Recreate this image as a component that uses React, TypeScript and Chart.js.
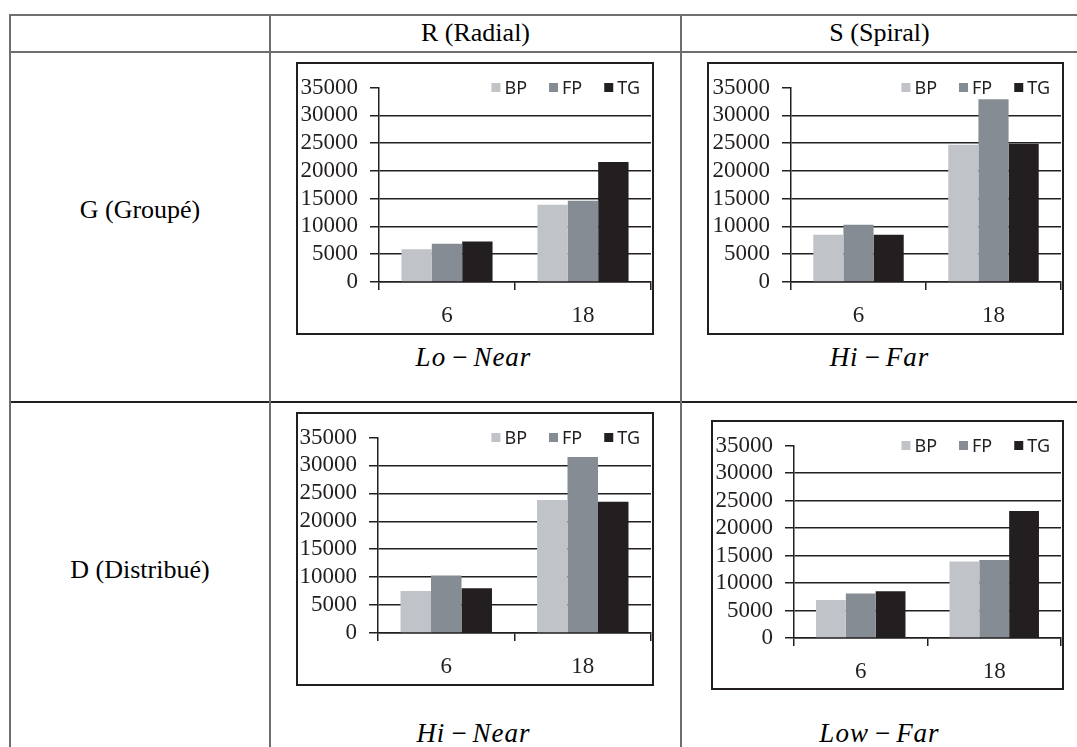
import React, { useEffect, useRef } from "react";
import { Chart, registerables } from "chart.js";
Chart.register(...registerables);

// ---- data ----
const categories = ["6", "18"];
const seriesNames = ["BP", "FP", "TG"];
const seriesColors = ["#c0c3c8", "#868c93", "#231f20"];
const yMin = 0;
const yMax = 35000;
const yStep = 5000;

const columnHeaders = ["R (Radial)", "S (Spiral)"];
const rowHeaders = ["G (Groupé)", "D (Distribué)"];
const panelCaptions = ["Lo − Near", "Hi − Far", "Hi − Near", "Low − Far"];

// R / G : Lo - Near
const radialGroupBP = [5900, 13900];
const radialGroupFP = [6900, 14600];
const radialGroupTG = [7300, 21600];
// S / G : Hi - Far
const spiralGroupBP = [8500, 24700];
const spiralGroupFP = [10300, 32900];
const spiralGroupTG = [8500, 24900];
// R / D : Hi - Near
const radialDistBP = [7500, 23800];
const radialDistFP = [10300, 31500];
const radialDistTG = [8000, 23500];
// S / D : Low - Far
const spiralDistBP = [6900, 13900];
const spiralDistFP = [8100, 14200];
const spiralDistTG = [8500, 23100];

const INK = "#231f20";
const SERIF = "'Liberation Serif', 'Times New Roman', serif";

const cornerLegend = {
  id: "cornerLegend",
  afterDraw(chart: any) {
    const { ctx, chartArea } = chart;
    ctx.save();
    ctx.font = "18px 'Noto Sans', sans-serif";
    ctx.textBaseline = "middle";
    ctx.textAlign = "left";
    const box = 9;
    const gap = 4;
    const itemGap = 22;
    let x = chartArea.right - 11;
    const y = chartArea.top;
    const ds = chart.data.datasets;
    for (let i = ds.length - 1; i >= 0; i--) {
      const label = ds[i].label;
      const w = ctx.measureText(label).width;
      x -= w;
      ctx.fillStyle = INK;
      ctx.fillText(label, x, y + 1);
      x -= gap + box;
      ctx.fillStyle = ds[i].backgroundColor;
      ctx.fillRect(x, y - box / 2, box, box);
      x -= itemGap;
    }
    ctx.restore();
  },
};

type Box = { x: number; y: number; w: number; h: number };
type Area = { left: number; top: number; right: number; bottom: number };

function BarPanel(props: { box: Box; area: Area; series: number[][] }) {
  const { box, area, series } = props;
  const ref = useRef<HTMLCanvasElement>(null);
  const bw = 2;
  const cw = box.w - 2 * bw;
  const ch = box.h - 2 * bw;
  const ox = box.x + bw;
  const oy = box.y + bw;
  useEffect(() => {
    const yWidth = area.left - ox;
    const topPad = area.top - oy;
    const rightPad = ox + cw - area.right;
    const xHeight = oy + ch - area.bottom;
    const chart = new Chart(ref.current as HTMLCanvasElement, {
      type: "bar",
      data: {
        labels: categories,
        datasets: seriesNames.map((name, i) => ({
          label: name,
          data: series[i],
          backgroundColor: seriesColors[i],
          borderWidth: 0,
          categoryPercentage: 0.67,
          barPercentage: 1.0,
        })),
      },
      options: {
        responsive: false,
        animation: false,
        layout: { padding: { top: topPad, right: rightPad, left: 0, bottom: 0 } },
        plugins: { legend: { display: false }, tooltip: { enabled: false } },
        scales: {
          x: {
            offset: true,
            grid: {
              offset: true,
              drawOnChartArea: false,
              drawTicks: true,
              tickLength: 8,
              color: INK,
              tickColor: INK,
              lineWidth: 1.5,
            },
            border: { display: true, color: INK, width: 1.5 },
            ticks: {
              color: INK,
              font: { family: SERIF, size: 23 },
              padding: 12,
            },
            afterFit: (s: any) => {
              s.height = xHeight;
            },
          },
          y: {
            min: yMin,
            max: yMax,
            ticks: {
              stepSize: yStep,
              autoSkip: false,
              color: INK,
              font: { family: SERIF, size: 23, lineHeight: 1 },
              padding: 12,
              callback: (v: any) => String(v),
            },
            grid: {
              drawTicks: true,
              tickLength: 9,
              color: (c: any) =>
                c.tick && c.tick.value === yMax ? "rgba(0,0,0,0)" : INK,
              tickColor: INK,
              lineWidth: 1.5,
            },
            border: { display: true, color: INK, width: 1.5 },
            afterFit: (s: any) => {
              s.width = yWidth;
            },
          },
        },
      },
      plugins: [cornerLegend],
    });
    return () => chart.destroy();
  }, []);
  return (
    <div
      style={{
        position: "absolute",
        left: box.x,
        top: box.y,
        width: cw,
        height: ch,
        border: `${bw}px solid ${INK}`,
        background: "#fff",
      }}
    >
      <canvas ref={ref} width={cw} height={ch} style={{ display: "block" }} />
    </div>
  );
}

function Caption(props: { text: string; cx0: number; cx1: number; cy: number }) {
  const parts = props.text.split(" − ");
  const it: React.CSSProperties = {
    fontFamily: "'Liberation Serif'",
    fontStyle: "italic",
    letterSpacing: 1,
  };
  return (
    <div
      style={{
        position: "absolute",
        left: props.cx0,
        width: props.cx1 - props.cx0,
        top: props.cy - 17,
        height: 34,
        lineHeight: "34px",
        textAlign: "center",
        fontFamily: "'Liberation Serif'",
        fontSize: 27,
        color: "#000",
        whiteSpace: "nowrap",
      }}
    >
      <span style={it}>{parts[0]}</span>
      <span style={{ margin: "0 6px" }}>−</span>
      <span style={it}>{parts[1]}</span>
    </div>
  );
}

function CellText(props: { text: string; x0: number; x1: number; cy: number }) {
  return (
    <div
      style={{
        position: "absolute",
        left: props.x0,
        width: props.x1 - props.x0,
        top: props.cy - 16,
        height: 32,
        lineHeight: "32px",
        textAlign: "center",
        fontFamily: SERIF,
        fontSize: 26,
        color: "#000",
        whiteSpace: "nowrap",
      }}
    >
      {props.text}
    </div>
  );
}

const GRAY = "#6e6e6e";

export default function App() {
  const line = (s: React.CSSProperties) => (
    <div style={{ position: "absolute", ...s }} />
  );
  return (
    <div
      style={{
        position: "absolute",
        left: 0,
        top: 0,
        width: 1077,
        height: 747,
        overflow: "hidden",
        background: "#fff",
      }}
    >
      {line({ left: 9, top: 14, width: 1068, height: 2, background: GRAY })}
      {line({ left: 9, top: 51, width: 1068, height: 2, background: GRAY })}
      {line({ left: 9, top: 401, width: 1068, height: 2, background: INK })}
      {line({ left: 9, top: 14, width: 2, height: 733, background: GRAY })}
      {line({ left: 269, top: 14, width: 2, height: 733, background: GRAY })}
      {line({ left: 680, top: 14, width: 2, height: 733, background: GRAY })}

      <CellText text={columnHeaders[0]} x0={271} x1={680} cy={33} />
      <CellText text={columnHeaders[1]} x0={682} x1={1077} cy={33} />
      <CellText text={rowHeaders[0]} x0={11} x1={269} cy={210} />
      <CellText text={rowHeaders[1]} x0={11} x1={269} cy={570} />

      <BarPanel
        box={{ x: 296, y: 62, w: 358, h: 273 }}
        area={{ left: 379, top: 83, right: 651, bottom: 282 }}
        series={[radialGroupBP, radialGroupFP, radialGroupTG]}
      />
      <BarPanel
        box={{ x: 707, y: 62, w: 357, h: 273 }}
        area={{ left: 791, top: 83, right: 1061, bottom: 282 }}
        series={[spiralGroupBP, spiralGroupFP, spiralGroupTG]}
      />
      <BarPanel
        box={{ x: 296, y: 412, w: 358, h: 274 }}
        area={{ left: 378, top: 433, right: 651, bottom: 633 }}
        series={[radialDistBP, radialDistFP, radialDistTG]}
      />
      <BarPanel
        box={{ x: 711, y: 420, w: 353, h: 270 }}
        area={{ left: 794, top: 439, right: 1061, bottom: 638 }}
        series={[spiralDistBP, spiralDistFP, spiralDistTG]}
      />

      <Caption text={panelCaptions[0]} cx0={271} cx1={676} cy={357} />
      <Caption text={panelCaptions[1]} cx0={682} cx1={1077} cy={357} />
      <Caption text={panelCaptions[2]} cx0={271} cx1={676} cy={733} />
      <Caption text={panelCaptions[3]} cx0={682} cx1={1077} cy={733} />
    </div>
  );
}
